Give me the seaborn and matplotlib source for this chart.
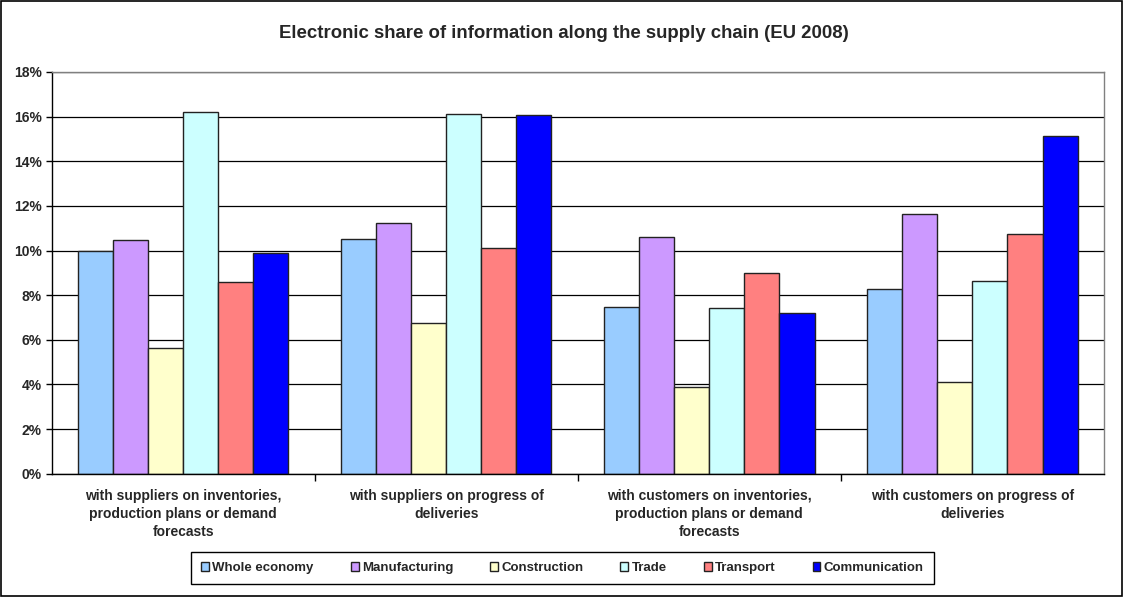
import matplotlib
matplotlib.use("Agg")
import matplotlib.pyplot as plt
from matplotlib.patches import Rectangle
from matplotlib.ticker import FuncFormatter, FixedLocator
import pandas as pd
import seaborn as sns

# Categories (x groups) and sectors (hue)
CATEGORIES = [
    "with suppliers on inventories,\nproduction plans or demand\nforecasts",
    "with suppliers on progress of\ndeliveries",
    "with customers on inventories,\nproduction plans or demand\nforecasts",
    "with customers on progress of\ndeliveries",
]
SECTORS = ["Whole economy", "Manufacturing", "Construction", "Trade", "Transport", "Communication"]

# Share of enterprises (%) per sector, one value per category
whole_economy = [9.97, 10.51, 7.46, 8.27]
manufacturing = [10.48, 11.22, 10.60, 11.63]
construction = [5.63, 6.75, 3.88, 4.10]
trade = [16.19, 16.12, 7.43, 8.64]
transport = [8.58, 10.13, 9.01, 10.73]
communication = [9.87, 16.07, 7.21, 15.15]

COLORS = ["#99CCFF", "#CC99FF", "#FFFFCC", "#CCFFFF", "#FF8080", "#0000FF"]

series = [whole_economy, manufacturing, construction, trade, transport, communication]
rows = []
for sector, vals in zip(SECTORS, series):
    for cat, v in zip(CATEGORIES, vals):
        rows.append({"category": cat, "sector": sector, "value": v})
df = pd.DataFrame(rows)

sns.set_style("white")
plt.rcParams["font.family"] = ["Liberation Sans", "DejaVu Sans"]

fig = plt.figure(figsize=(11.23, 5.97), dpi=100)
ax = fig.add_axes([0.046, 0.2065, 0.937, 0.6729])

sns.barplot(
    data=df, x="category", y="value", hue="sector",
    order=CATEGORIES, hue_order=SECTORS,
    palette=COLORS, saturation=1, width=0.8,
    edgecolor="#222222", linewidth=1.0,
    errorbar=None, ax=ax,
)

ax.set_xlim(-0.5, 3.5)
ax.set_ylim(0, 18)
ax.set_yticks(range(0, 19, 2))
ax.yaxis.set_major_formatter(FuncFormatter(lambda v, _: f"{v:.0f}%"))
ax.yaxis.grid(True, color="black", linewidth=0.9)
ax.set_axisbelow(True)
ax.set_xlabel("")
ax.set_ylabel("")

ax.tick_params(axis="y", left=True, length=4, width=1, color="black",
               labelsize=10, pad=3)
for lbl in ax.get_yticklabels():
    lbl.set_fontweight("bold")

ax.tick_params(axis="x", which="major", length=0, labelsize=10, pad=11)
for lbl in ax.get_xticklabels():
    lbl.set_fontweight("bold")
    lbl.set_linespacing(1.35)
ax.xaxis.set_minor_locator(FixedLocator([0.5, 1.5, 2.5]))
ax.tick_params(axis="x", which="minor", bottom=True, length=5, width=1, color="black")

for side in ["left", "bottom"]:
    ax.spines[side].set_color("black")
    ax.spines[side].set_linewidth(1.0)
for side in ["top", "right"]:
    ax.spines[side].set_color("#808080")
    ax.spines[side].set_linewidth(1.0)

ax.legend(
    loc="center", bbox_to_anchor=(0.4854, -0.235), ncol=6,
    frameon=True, fancybox=False, edgecolor="black", framealpha=1,
    handlelength=0.6, handleheight=0.6, handletextpad=0.25,
    columnspacing=2.8, borderpad=0.75, borderaxespad=0,
    prop={"size": 9.5, "weight": "bold"},
)

fig.suptitle("Electronic share of information along the supply chain (EU 2008)",
             x=0.502, y=0.958, fontsize=13.4, fontweight="bold")

fig.patches.append(Rectangle((0.001, 0.001), 0.998, 0.997, transform=fig.transFigure,
                             fill=False, edgecolor="black", linewidth=1.2))

fig.savefig("out.png", dpi=100)
